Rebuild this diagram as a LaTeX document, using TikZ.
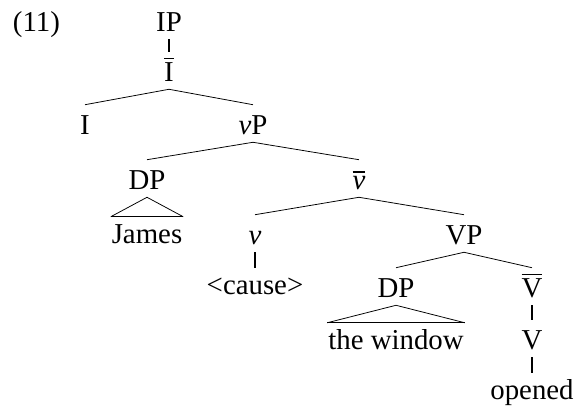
\documentclass[tikz,border=0pt]{standalone}
\usepackage{fontspec}
\setmainfont{Liberation Serif}
\usepackage{tikz}
\newcommand{\xbar}[1]{\vbox{\hrule height 1.3pt\kern 2.6pt\hbox{#1}}}
\tikzset{
  lbl/.style={font=\fontsize{20.5}{24}\selectfont, anchor=base, inner xsep=0.5pt,
    inner ysep=0.075cm, text height=0.675cm, text depth=0.1cm},
  term/.style={lbl, text height=0.6cm},
  branch/.style={line width=0.55pt},
  unary/.style={line width=1.1pt},
}

\begin{document}
\begin{tikzpicture}[x=1cm, y=1cm]
  \useasboundingbox (0,0) rectangle (14.4,10.275);

  %% example number
  \node[lbl, anchor=base west] (exnum) at (0.3,9.475) {(11)};

  %% category labels
  \node[lbl] (IP)    at (4.225,9.475) {IP};
  \node[lbl] (Ibar)  at (4.225,8.225) {\xbar{I}};
  \node[lbl] (I)     at (2.125,6.9)   {I};
  \node[lbl] (vP)    at (6.325,6.9)   {\textit{v}P};
  \node[lbl] (DPa)   at (3.675,5.525) {DP};
  \node[lbl] (vbar)  at (8.975,5.525) {\xbar{\textit{v}}};
  \node[lbl] (v)     at (6.375,4.15)  {\textit{v}};
  \node[lbl] (VP)    at (11.6,4.15)   {VP};
  \node[lbl] (DPb)   at (9.9,2.825)   {DP};
  \node[lbl] (Vbar)  at (13.3,2.825)  {\xbar{V}};
  \node[lbl] (V)     at (13.3,1.525)  {V};

  %% terminals
  \node[term] (James)  at (3.675,4.175) {James};
  \node[term] (cause)  at (6.375,2.9)   {<cause>};
  \node[term] (window) at (9.9,1.525)   {the window};
  \node[term] (opened) at (13.3,0.275)  {opened};

  %% binary branches
  \foreach \p/\c in {Ibar/I, Ibar/vP, vP/DPa, vP/vbar, vbar/v, vbar/VP, VP/DPb, VP/Vbar}{
    \draw[branch] (\p.south) -- (\c.north);
  }

  %% non-branching links
  \foreach \p/\c in {IP/Ibar, v/cause, Vbar/V, V/opened}{
    \draw[unary] (\p.south) -- (\c.north);
  }

  %% triangles
  \foreach \p/\c in {DPa/James, DPb/window}{
    \draw[branch] (\c.north west) -- (\p.south) -- (\c.north east);
    \draw[unary] (\c.north west) -- (\c.north east);
  }

\end{tikzpicture}
\end{document}
